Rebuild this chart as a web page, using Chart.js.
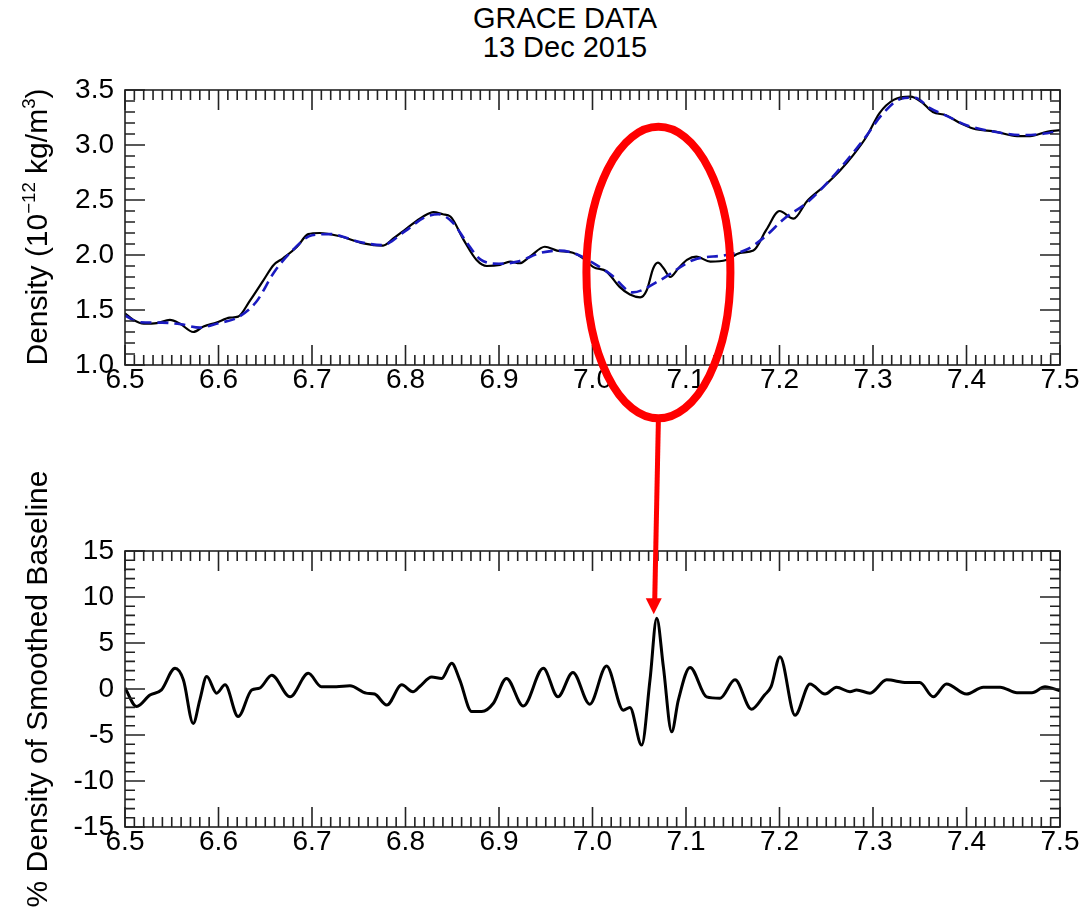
<!DOCTYPE html>
<html>
<head>
<meta charset="utf-8">
<title>GRACE DATA - 13 Dec 2015</title>
<script src="https://cdn.jsdelivr.net/npm/chart.js@4.4.1/dist/chart.umd.min.js"></script>
<style>
  body { margin: 0; background: #fff; }
  #page { position: relative; width: 1082px; height: 907px; overflow: hidden;
          font-family: "Liberation Sans", Arial, Helvetica, sans-serif; color: #000; }
  #title { position: absolute; left: 365px; top: 4px; width: 400px; text-align: center;
           font-size: 29px; line-height: 29px; }
  .ytitle { position: absolute; white-space: nowrap; font-size: 30px; line-height: 30px;
            transform: translate(-50%, -50%) rotate(-90deg); }
  .ytitle sup { font-size: 0.62em; vertical-align: 0.62em; line-height: 0; }
  canvas { position: absolute; left: 0; }
  #densCanvas { top: 0; }
  #pctCanvas { top: 460px; }
  #callout { position: absolute; left: 0; top: 0; pointer-events: none; }
</style>
</head>
<body>
<div id="page">
  <div id="title">GRACE DATA<br>13 Dec 2015</div>
  <canvas id="densCanvas" width="1082" height="460"></canvas>
  <canvas id="pctCanvas" width="1082" height="447"></canvas>
  <div class="ytitle" style="left:37px; top:227px;">Density (10<sup>−12</sup> kg/m<sup>3</sup>)</div>
  <div class="ytitle" style="left:37px; top:689px;">% Density of Smoothed Baseline</div>
  <svg id="callout" width="1082" height="907">
    <ellipse id="ring" fill="none" stroke="#ff0000" stroke-width="8"></ellipse>
    <line id="shaft" stroke="#ff0000" stroke-width="5"></line>
    <polygon id="head" fill="#ff0000"></polygon>
  </svg>
</div>
<script>
// 时间轴刻度
const xTicks = [6.5, 6.6, 6.7, 6.8, 6.9, 7.0, 7.1, 7.2, 7.3, 7.4, 7.5];
const densTicks = [1.0, 1.5, 2.0, 2.5, 3.0, 3.5];
const pctTicks = [-15, -10, -5, 0, 5, 10, 15];

// 观测密度 (10^-12 kg/m^3)
const densX = [6.500, 6.509, 6.520, 6.534, 6.548, 6.559, 6.573, 6.584, 6.598, 6.612,
  6.621, 6.634, 6.648, 6.659, 6.669, 6.684, 6.696, 6.708, 6.730, 6.755,
  6.776, 6.787, 6.801, 6.819, 6.830, 6.840, 6.848, 6.862, 6.876, 6.887,
  6.901, 6.912, 6.922, 6.933, 6.949, 6.962, 6.979, 6.990, 7.001, 7.015,
  7.029, 7.040, 7.051, 7.058, 7.065, 7.070, 7.076, 7.083, 7.092, 7.101,
  7.111, 7.126, 7.143, 7.158, 7.172, 7.186, 7.200, 7.215, 7.229, 7.247,
  7.265, 7.279, 7.293, 7.307, 7.322, 7.340, 7.352, 7.364, 7.378, 7.393,
  7.407, 7.432, 7.454, 7.468, 7.486, 7.500];
const densY = [1.47, 1.41, 1.375, 1.38, 1.41, 1.375, 1.30, 1.35, 1.385, 1.43,
  1.44, 1.59, 1.77, 1.91, 1.97, 2.075, 2.19, 2.20, 2.17, 2.105,
  2.085, 2.15, 2.24, 2.35, 2.39, 2.37, 2.35, 2.14, 1.955, 1.90,
  1.91, 1.94, 1.925, 1.985, 2.075, 2.04, 2.02, 1.97, 1.89, 1.85,
  1.71, 1.64, 1.615, 1.68, 1.88, 1.93, 1.88, 1.80, 1.88, 1.955,
  1.985, 1.94, 1.955, 2.02, 2.04, 2.23, 2.40, 2.33, 2.485, 2.62,
  2.77, 2.91, 3.075, 3.29, 3.41, 3.44, 3.39, 3.30, 3.27, 3.20,
  3.15, 3.12, 3.08, 3.08, 3.12, 3.135];

// 平滑基线
const baseX = [6.500, 6.515, 6.540, 6.560, 6.580, 6.600, 6.620, 6.640, 6.660, 6.680,
  6.700, 6.720, 6.750, 6.775, 6.800, 6.820, 6.835, 6.850, 6.865, 6.880,
  6.900, 6.920, 6.945, 6.965, 6.985, 7.000, 7.020, 7.043, 7.072, 7.108,
  7.143, 7.165, 7.185, 7.205, 7.230, 7.260, 7.290, 7.310, 7.330, 7.345,
  7.360, 7.380, 7.400, 7.430, 7.460, 7.480, 7.500];
const baseY = [1.45, 1.39, 1.385, 1.37, 1.34, 1.38, 1.43, 1.57, 1.85, 2.05,
  2.18, 2.19, 2.12, 2.09, 2.22, 2.34, 2.37, 2.30, 2.12, 1.96,
  1.92, 1.94, 2.02, 2.04, 2.00, 1.93, 1.82, 1.66, 1.77, 1.955,
  2.00, 2.05, 2.17, 2.33, 2.48, 2.74, 3.05, 3.28, 3.42, 3.43,
  3.34, 3.26, 3.18, 3.12, 3.09, 3.10, 3.13];

// 相对平滑基线的密度偏差 (%)
const pctX = [6.500, 6.5125, 6.5267, 6.539, 6.5535, 6.5624, 6.573, 6.580, 6.5874, 6.598,
  6.607, 6.621, 6.6355, 6.644, 6.657, 6.6765, 6.696, 6.710, 6.726, 6.7406,
  6.758, 6.767, 6.780, 6.796, 6.808, 6.8155, 6.828, 6.8387, 6.8494, 6.858,
  6.8708, 6.8815, 6.894, 6.908, 6.926, 6.9474, 6.963, 6.979, 6.997, 7.015,
  7.033, 7.040, 7.0526, 7.0615, 7.0687, 7.0758, 7.0847, 7.0918, 7.1043, 7.122,
  7.1364, 7.1524, 7.170, 7.184, 7.191, 7.2005, 7.2166, 7.2326, 7.2487, 7.261,
  7.2754, 7.2825, 7.2968, 7.3146, 7.336, 7.350, 7.3645, 7.3786, 7.400, 7.418,
  7.436, 7.454, 7.470, 7.484, 7.500];
const pctY = [0.1, -1.9, -0.65, -0.1, 2.25, 1.0, -3.75, -1.2, 1.35, -0.45,
  0.45, -3.0, -0.1, 0.1, 1.5, -0.85, 1.7, 0.25, 0.25, 0.35,
  -0.45, -0.55, -1.75, 0.45, -0.3, 0.3, 1.3, 1.15, 2.8, 1.0,
  -2.45, -2.45, -1.55, 1.15, -1.85, 2.25, -0.85, 1.8, -1.65, 2.5,
  -2.3, -2.0, -6.1, 1.0, 7.7, 2.4, -4.65, -1.2, 2.35, -0.85,
  -1.0, 1.0, -2.2, -0.65, 0.25, 3.5, -2.85, 0.55, -0.55, 0.2,
  -0.3, -0.1, -0.45, 1.0, 0.7, 0.7, -0.85, 0.55, -0.55, 0.2,
  0.2, -0.4, -0.4, 0.25, -0.2];

const FONT = '"Liberation Sans", Arial, Helvetica, sans-serif';

function pairs(xs, ys) {
  return xs.map((x, i) => ({ x: x, y: ys[i] }));
}

// 在相邻主刻度之间按 n 等分补出次刻度，返回 [值, 是否主刻度]
function tickMarks(values, n) {
  const out = [];
  for (let i = 0; i < values.length; i++) {
    out.push([values[i], true]);
    if (i === values.length - 1) break;
    for (let j = 1; j < n; j++) {
      out.push([values[i] + (values[i + 1] - values[i]) * j / n, false]);
    }
  }
  return out;
}

// IDL 风格边框：四边都画向内的主/次刻度
const frameTicks = {
  id: 'frameTicks',
  afterDraw(chart, args, opts) {
    const { ctx, chartArea: a, scales } = chart;
    ctx.save();
    ctx.strokeStyle = '#222';
    ctx.lineWidth = 1.6;
    ctx.strokeRect(a.left, a.top, a.right - a.left, a.bottom - a.top);
    ctx.beginPath();
    tickMarks(scales.x.ticks.map(t => t.value), opts.xMinor).forEach(([v, major]) => {
      const px = scales.x.getPixelForValue(v);
      const len = major ? 20 : 10;
      ctx.moveTo(px, a.bottom); ctx.lineTo(px, a.bottom - len);
      ctx.moveTo(px, a.top); ctx.lineTo(px, a.top + len);
    });
    tickMarks(scales.y.ticks.map(t => t.value), opts.yMinor).forEach(([v, major]) => {
      const py = scales.y.getPixelForValue(v);
      const len = major ? 20 : 10;
      ctx.moveTo(a.left, py); ctx.lineTo(a.left + len, py);
      ctx.moveTo(a.right, py); ctx.lineTo(a.right - len, py);
    });
    ctx.stroke();
    ctx.restore();
  }
};

function makeOptions(yTicks, yFmt, padTop, padBottom, yMinor) {
  return {
    responsive: false,
    animation: false,
    layout: { padding: { left: 0, right: 22, top: padTop, bottom: padBottom } },
    plugins: {
      legend: { display: false },
      tooltip: { enabled: false },
      frameTicks: { xMinor: 10, yMinor: yMinor }
    },
    elements: { point: { radius: 0 } },
    scales: {
      x: {
        type: 'linear',
        min: xTicks[0],
        max: xTicks[xTicks.length - 1],
        afterBuildTicks: s => { s.ticks = xTicks.map(v => ({ value: v })); },
        afterFit: s => { s.height = 55; },
        grid: { display: false, drawTicks: false },
        border: { display: false },
        ticks: {
          padding: -2,
          color: '#000',
          font: { family: FONT, size: 28 },
          maxRotation: 0,
          callback: v => v.toFixed(1)
        }
      },
      y: {
        min: yTicks[0],
        max: yTicks[yTicks.length - 1],
        afterBuildTicks: s => { s.ticks = yTicks.map(v => ({ value: v })); },
        afterFit: s => { s.width = 125; },
        grid: { display: false, drawTicks: false },
        border: { display: false },
        ticks: {
          padding: 11,
          color: '#000',
          font: { family: FONT, size: 28 },
          callback: yFmt
        }
      }
    }
  };
}

const densChart = new Chart(document.getElementById('densCanvas'), {
  type: 'line',
  data: {
    datasets: [{
      data: pairs(densX, densY),
      borderColor: '#000',
      borderWidth: 2.2,
      cubicInterpolationMode: 'monotone',
      order: 2
    }, {
      data: pairs(baseX, baseY),
      borderColor: '#1a1ac0',
      borderWidth: 2.6,
      borderDash: [11, 6],
      cubicInterpolationMode: 'monotone',
      order: 1
    }]
  },
  options: makeOptions(densTicks, v => v.toFixed(1), 90, 40, 5),
  plugins: [frameTicks]
});

const pctChart = new Chart(document.getElementById('pctCanvas'), {
  type: 'line',
  data: {
    datasets: [{
      data: pairs(pctX, pctY),
      borderColor: '#000',
      borderWidth: 3,
      cubicInterpolationMode: 'monotone'
    }]
  },
  options: makeOptions(pctTicks, v => String(v), 91, 25, 5),
  plugins: [frameTicks]
});

// 红圈圈出上图的扰动区，箭头指向下图的尖峰
function drawCallout() {
  const sx = densChart.scales.x, sy = densChart.scales.y;
  const cx = sx.getPixelForValue(7.0705);
  const cy = sy.getPixelForValue(1.84);
  const rx = sx.getPixelForValue(7.0705 + 0.077) - cx;
  const ry = cy - sy.getPixelForValue(1.84 + 1.325);
  const ring = document.getElementById('ring');
  ring.setAttribute('cx', cx);
  ring.setAttribute('cy', cy);
  ring.setAttribute('rx', rx);
  ring.setAttribute('ry', ry);

  const k = pctY.indexOf(Math.max(...pctY));
  const top = document.getElementById('pctCanvas').offsetTop;
  const tipX = pctChart.scales.x.getPixelForValue(pctX[k]) - 3;
  const tipY = top + pctChart.scales.y.getPixelForValue(pctY[k]) - 4;
  const shaft = document.getElementById('shaft');
  shaft.setAttribute('x1', cx);
  shaft.setAttribute('y1', cy + ry);
  shaft.setAttribute('x2', tipX + 1);
  shaft.setAttribute('y2', tipY - 14);
  document.getElementById('head').setAttribute('points',
    (tipX - 8) + ',' + (tipY - 16) + ' ' + (tipX + 8) + ',' + (tipY - 16) + ' ' + tipX + ',' + tipY);
}
drawCallout();
</script>
</body>
</html>
